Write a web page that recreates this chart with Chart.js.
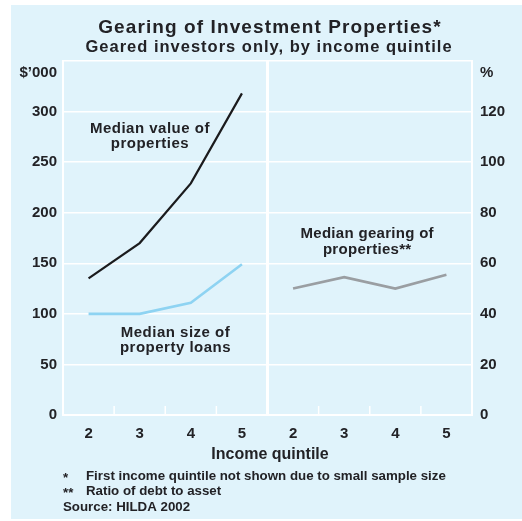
<!DOCTYPE html>
<html>
<head>
<meta charset="utf-8">
<script src="https://cdn.jsdelivr.net/npm/chart.js@4"></script>
<style>
  body { margin: 0; background: #fff; }
  canvas { display: block; }
</style>
</head>
<body>
<canvas id="gearChart" width="522" height="521"></canvas>
<script>
// data
const quintiles = ["2", "3", "4", "5", "2", "3", "4", "5"];
const medianValue = [135, 170, 229, 318, null, null, null, null];   // $'000
const medianLoan = [100, 100, 111, 149, null, null, null, null];    // $'000
const medianGearing = [null, null, null, null, 50, 54.5, 50, 55.5]; // %
const leftTicks = [0, 50, 100, 150, 200, 250, 300];
const rightTicks = [0, 20, 40, 60, 80, 100, 120];

const ink = "#222226";
const bgBlue = "#e0f3fb";
const font = "'Liberation Sans', Arial, sans-serif";

function text(c, str, x, y, size, spacing) {
  c.font = "bold " + size + "px " + font;
  c.letterSpacing = (spacing || 0) + "px";
  c.fillText(str, x, y);
  c.letterSpacing = "0px";
}

// background, divider, labels and footnotes
const decor = {
  id: "decor",
  beforeDraw(chart) {
    const c = chart.ctx;
    c.save();
    c.fillStyle = "#fff";
    c.fillRect(0, 0, chart.width, chart.height);
    c.fillStyle = bgBlue;
    c.fillRect(11, 5, chart.width - 11, chart.height - 7);
    c.restore();
  },
  afterDraw(chart) {
    const c = chart.ctx;
    const x = chart.scales.x, yl = chart.scales.yL, yr = chart.scales.yR;
    const area = chart.chartArea;
    c.save();
    // panel divider
    c.strokeStyle = "#fff";
    c.lineWidth = 3;
    const mid = x.getPixelForValue(3.5);
    c.beginPath(); c.moveTo(mid, area.top); c.lineTo(mid, area.bottom); c.stroke();
    // short ticks between categories
    c.lineWidth = 1.5;
    [0.5, 1.5, 2.5, 4.5, 5.5, 6.5].forEach(v => {
      const px = x.getPixelForValue(v);
      c.beginPath(); c.moveTo(px, area.bottom); c.lineTo(px, area.bottom - 9); c.stroke();
    });

    c.fillStyle = ink;
    c.textBaseline = "alphabetic";
    // titles
    c.textAlign = "center";
    text(c, "Gearing of Investment Properties*", 270, 33, 19, 1.1);
    text(c, "Geared investors only, by income quintile", 269, 52, 16.5, 1);

    // units
    c.textAlign = "right";
    text(c, "$\u2019000", 57, 77, 15);
    c.textAlign = "left";
    text(c, "%", 480, 77, 15);

    // axis title
    c.textAlign = "center";
    text(c, "Income quintile", 270, 459, 16);

    // series labels
    const lx1 = x.getPixelForValue(1.2), lx2 = x.getPixelForValue(1.7), lx3 = x.getPixelForValue(5.45);
    text(c, "Median value of", lx1, yl.getPixelForValue(279), 15, 0.5);
    text(c, "properties", lx1, yl.getPixelForValue(264), 15, 0.5);
    text(c, "Median size of", lx2, yl.getPixelForValue(77), 15, 0.5);
    text(c, "property loans", lx2, yl.getPixelForValue(62), 15, 0.5);
    text(c, "Median gearing of", lx3, yr.getPixelForValue(70), 15, 0.3);
    text(c, "properties**", lx3, yr.getPixelForValue(63.7), 15, 0.3);

    // footnotes
    c.textAlign = "left";
    text(c, "*", 63, 482, 13.3);
    text(c, "First income quintile not shown due to small sample size", 86, 480, 13.3);
    text(c, "**", 63, 497, 13.3);
    text(c, "Ratio of debt to asset", 86, 495, 13.3);
    text(c, "Source: HILDA 2002", 63, 511, 13.3);
    c.restore();
  }
};

new Chart("gearChart", {
  type: "line",
  data: {
    labels: quintiles,
    datasets: [{
      data: medianValue,
      yAxisID: "yL",
      borderColor: "#1b1b1d",
      borderWidth: 2.2,
      pointRadius: 0,
      fill: false
    }, {
      data: medianLoan,
      yAxisID: "yL",
      borderColor: "#8ed3f2",
      borderWidth: 2.6,
      pointRadius: 0,
      fill: false
    }, {
      data: medianGearing,
      yAxisID: "yR",
      borderColor: "#9a9ea2",
      borderWidth: 2.6,
      pointRadius: 0,
      fill: false
    }]
  },
  options: {
    responsive: false,
    animation: false,
    events: [],
    layout: { padding: { top: 61, left: 0, right: 0, bottom: 0 } },
    plugins: { legend: { display: false }, tooltip: { enabled: false } },
    scales: {
      x: {
        offset: true,
        grid: { display: false },
        border: { display: true, color: "#fff", width: 2 },
        ticks: { color: ink, font: { family: font, size: 15, weight: "bold" }, padding: 2, maxRotation: 0, autoSkip: false },
        afterFit(s) { s.height = 106; }
      },
      yL: {
        position: "left",
        min: 0, max: 350,
        afterBuildTicks(s) { s.ticks = leftTicks.concat([350]).map(v => ({ value: v })); },
        grid: { color: "#fff", lineWidth: 1.5, drawTicks: false },
        border: { display: true, color: "#fff", width: 2 },
        ticks: { color: ink, font: { family: font, size: 15, weight: "bold" }, padding: 6,
                 callback: v => leftTicks.includes(v) ? String(v) : "" },
        afterFit(s) { s.width = 63; }
      },
      yR: {
        position: "right",
        min: 0, max: 140,
        afterBuildTicks(s) { s.ticks = rightTicks.concat([140]).map(v => ({ value: v })); },
        grid: { display: true, drawOnChartArea: false, drawTicks: false },
        border: { display: true, color: "#fff", width: 2 },
        ticks: { color: ink, font: { family: font, size: 15, weight: "bold" }, padding: 8,
                 callback: v => rightTicks.includes(v) ? String(v) : "" },
        afterFit(s) { s.width = 50; }
      }
    }
  },
  plugins: [decor]
});
</script>
</body>
</html>
